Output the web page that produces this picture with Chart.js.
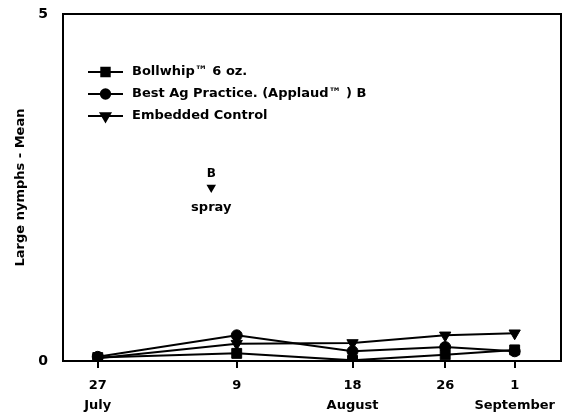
<!DOCTYPE html>
<html>
<head>
<meta charset="utf-8">
<script src="https://cdn.jsdelivr.net/npm/chart.js@4/dist/chart.umd.min.js"></script>
<style>
  html, body { margin: 0; padding: 0; background: #fff; }
  #wrap { width: 577px; height: 415px; }
</style>
</head>
<body>
<div id="wrap"><canvas id="myChart" width="577" height="415"></canvas></div>
<script>
// days after 27 July where each sample sits
const days = [0, 12, 22, 30, 36]
const xTicks = [0, 12, 22, 30, 36]
const xLabels = [['27', 'July'], ['9', ''], ['18', 'August'], ['26', ''], ['1', 'September']]

const seriesNames = ['Bollwhip™ 6 oz.', 'Best Ag Practice. (Applaud™ ) B', 'Embedded Control']
const bollwhip = [0.05, 0.11, 0.01, 0.09, 0.16]
const bestAg = [0.06, 0.37, 0.14, 0.20, 0.14]
const control = [0.04, 0.25, 0.26, 0.37, 0.40]

const yTicks = [0, 5]
const spray = { x: 9.8, y: 2.5, top: 'B', bottom: 'spray' }

const FONT = "'DejaVu Sans', Verdana, sans-serif"

function pts(vals) {
  return vals.map((v, i) => ({ x: days[i], y: v }))
}

const styles = [
  { pointStyle: 'rect', radius: 7, rotation: 0 },
  { pointStyle: 'circle', radius: 5.5, rotation: 0 },
  { pointStyle: 'triangle', radius: 6.5, rotation: 180 }
]

const extras = {
  id: 'extras',
  afterDraw(chart) {
    const ctx = chart.ctx
    const a = chart.chartArea
    const xs = chart.scales.x
    const ys = chart.scales.y
    ctx.save()
    // box
    ctx.strokeStyle = '#000'
    ctx.lineWidth = 2
    ctx.strokeRect(a.left, a.top, a.right - a.left, a.bottom - a.top)

    // legend
    ctx.font = 'bold 13px ' + FONT
    ctx.textBaseline = 'middle'
    ctx.textAlign = 'left'
    chart.data.datasets.forEach((ds, i) => {
      const y = 72 + i * 22
      ctx.strokeStyle = '#000'
      ctx.lineWidth = 2
      ctx.beginPath()
      ctx.moveTo(88, y)
      ctx.lineTo(123, y)
      ctx.stroke()
      ctx.fillStyle = '#000'
      Chart.helpers.drawPoint(ctx, {
        pointStyle: ds.pointStyle,
        radius: ds.pointRadius * 0.85,
        rotation: ds.pointRotation,
        borderWidth: 1
      }, 105.5, y)
      ctx.fillStyle = '#000'
      ctx.fillText(ds.label, 132, y)
    })

    // spray annotation
    const px = xs.getPixelForValue(spray.x)
    const py = ys.getPixelForValue(spray.y)
    ctx.textAlign = 'center'
    ctx.font = 'bold 12px ' + FONT
    ctx.fillText(spray.top, px, py - 14)
    ctx.font = 'bold 13px ' + FONT
    ctx.fillText(spray.bottom, px, py + 20)
    Chart.helpers.drawPoint(ctx, { pointStyle: 'triangle', radius: 3.5, rotation: 180, borderWidth: 1 }, px, py)
    ctx.restore()
  }
}

const ctx = document.getElementById('myChart')

new Chart(ctx, {
  type: 'line',
  data: {
    datasets: [bollwhip, bestAg, control].map((vals, i) => ({
      label: seriesNames[i],
      data: pts(vals),
      borderColor: '#000',
      backgroundColor: '#000',
      borderWidth: 2,
      lineTension: 0,
      pointStyle: styles[i].pointStyle,
      pointRadius: styles[i].radius,
      pointRotation: styles[i].rotation,
      pointBackgroundColor: '#000',
      pointBorderColor: '#000',
      pointBorderWidth: 1
    }))
  },
  options: {
    responsive: false,
    animation: false,
    layout: { padding: { top: 14, right: 16, left: 0, bottom: 0 } },
    plugins: {
      legend: { display: false },
      tooltip: { enabled: false }
    },
    scales: {
      x: {
        type: 'linear',
        min: -3,
        max: 40,
        afterBuildTicks: scale => { scale.ticks = xTicks.map(v => ({ value: v })) },
        afterFit: scale => {
          scale.height = 54
          scale.paddingLeft = 0
          scale.paddingRight = 0
        },
        grid: { drawOnChartArea: false, drawTicks: true, tickLength: 7, color: '#000', lineWidth: 2 },
        border: { color: '#000', width: 2 },
        ticks: {
          color: '#000',
          padding: 8,
          maxRotation: 0,
          autoSkip: false,
          font: { family: FONT, weight: 'bold', size: 13, lineHeight: 1.5 },
          callback: (v, i) => xLabels[i]
        }
      },
      y: {
        min: 0,
        max: 5,
        afterBuildTicks: scale => { scale.ticks = yTicks.map(v => ({ value: v })) },
        afterFit: scale => {
          scale.width = 63
          scale.paddingTop = 0
          scale.paddingBottom = 0
        },
        grid: { drawOnChartArea: false, drawTicks: false },
        border: { color: '#000', width: 2 },
        ticks: {
          color: '#000',
          padding: 15,
          font: { family: FONT, weight: 'bold', size: 14 }
        },
        title: {
          display: true,
          text: 'Large nymphs - Mean',
          color: '#000',
          padding: { top: 13, bottom: 0 },
          font: { family: FONT, weight: 'bold', size: 13 }
        }
      }
    }
  },
  plugins: [extras]
})
</script>
</body>
</html>
